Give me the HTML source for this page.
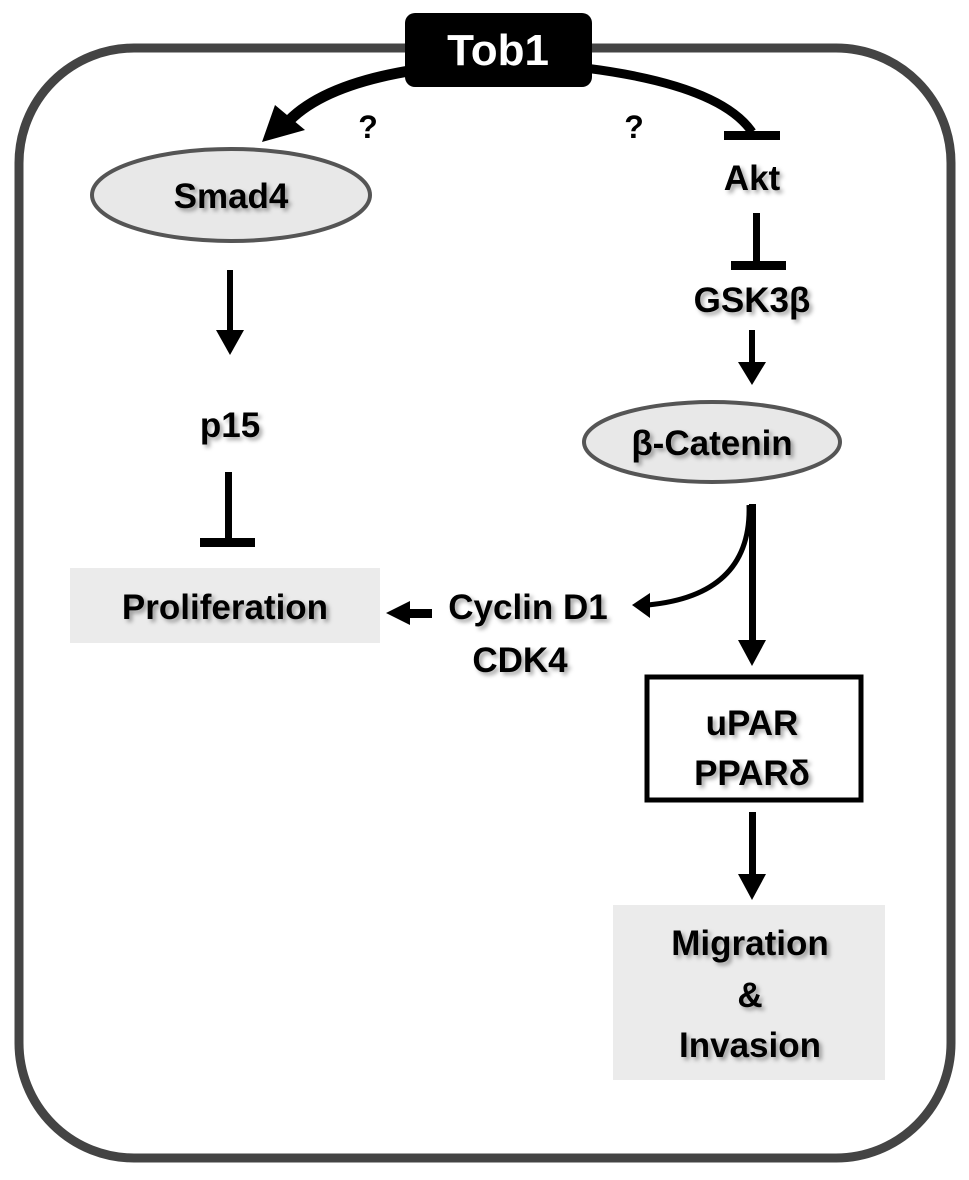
<!DOCTYPE html>
<html><head><style>
html,body{margin:0;padding:0;background:#fff;}
svg{display:block;}
text{font-family:"Liberation Sans",Arial,sans-serif;font-weight:bold;text-anchor:middle;fill:#000;}
</style></head><body>
<svg width="969" height="1180" viewBox="0 0 969 1180" xmlns="http://www.w3.org/2000/svg">
<defs>
<filter id="sh" x="-20%" y="-20%" width="140%" height="140%"><feDropShadow dx="3" dy="3" stdDeviation="2" flood-color="#000" flood-opacity="0.35"/></filter>
</defs>
<rect x="19" y="48" width="932" height="1110" rx="115" ry="115" fill="none" stroke="#444" stroke-width="9"/>
<path d="M415,70 Q320,85 285,125" fill="none" stroke="#000" stroke-width="11"/>
<polygon points="262,142 275,105 305,130" fill="#000"/>
<path d="M585,68 Q720,85 752,132" fill="none" stroke="#000" stroke-width="9"/>
<rect x="724" y="131" width="56" height="9" fill="#000"/>
<rect x="405" y="13" width="187" height="74" rx="10" fill="#000"/>
<text x="498" y="65" font-size="44" style="fill:#fff">Tob1</text>
<text x="368" y="138" font-size="32">?</text>
<text x="634" y="138" font-size="32">?</text>
<ellipse cx="231" cy="195" rx="139" ry="46" fill="#e8e8e8" stroke="#555" stroke-width="4"/>
<text x="231" y="208" font-size="35" filter="url(#sh)">Smad4</text>
<text x="752" y="190" font-size="35" filter="url(#sh)">Akt</text>
<rect x="753" y="213" width="7" height="50" fill="#000"/>
<rect x="731" y="261" width="55" height="9" fill="#000"/>
<text x="752" y="312" font-size="35" filter="url(#sh)">GSK3β</text>
<rect x="749" y="330" width="6" height="35" fill="#000"/>
<polygon points="738,362 766,362 752,385" fill="#000"/>
<ellipse cx="712" cy="442" rx="128" ry="40" fill="#e8e8e8" stroke="#555" stroke-width="4"/>
<text x="712" y="455" font-size="35" filter="url(#sh)">β-Catenin</text>
<rect x="227" y="270" width="6" height="62" fill="#000"/>
<polygon points="216,330 244,330 230,355" fill="#000"/>
<text x="230" y="437" font-size="35" filter="url(#sh)">p15</text>
<rect x="225" y="472" width="7" height="68" fill="#000"/>
<rect x="200" y="538" width="55" height="9" fill="#000"/>
<rect x="70" y="568" width="310" height="75" fill="#ebebeb"/>
<text x="225" y="619" font-size="35" filter="url(#sh)">Proliferation</text>
<text x="528" y="619" font-size="35" filter="url(#sh)">Cyclin D1</text>
<text x="520" y="672" font-size="35" filter="url(#sh)">CDK4</text>
<rect x="405" y="609" width="27" height="9" fill="#000"/>
<polygon points="386,613 410,601 410,625" fill="#000"/>
<path d="M749,505 Q752,595 648,605" fill="none" stroke="#000" stroke-width="5"/>
<polygon points="632,605 650,593 650,618" fill="#000"/>
<rect x="749" y="504" width="7" height="140" fill="#000"/>
<polygon points="738,640 766,640 752,666" fill="#000"/>
<rect x="647" y="677" width="214" height="123" fill="#fff" stroke="#000" stroke-width="5"/>
<text x="752" y="735" font-size="35" filter="url(#sh)">uPAR</text>
<text x="752" y="785" font-size="35" filter="url(#sh)">PPARδ</text>
<rect x="749" y="812" width="7" height="65" fill="#000"/>
<polygon points="738,874 766,874 752,900" fill="#000"/>
<rect x="613" y="905" width="272" height="175" fill="#ebebeb"/>
<text x="750" y="955" font-size="35" filter="url(#sh)">Migration</text>
<text x="750" y="1007" font-size="35" filter="url(#sh)">&amp;</text>
<text x="750" y="1057" font-size="35" filter="url(#sh)">Invasion</text>
</svg>
</body></html>
